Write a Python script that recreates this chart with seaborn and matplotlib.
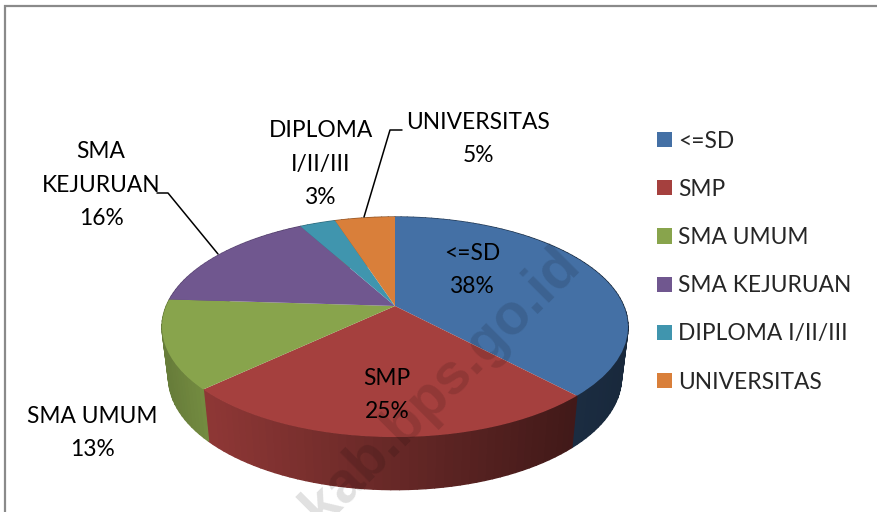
#!/usr/bin/env python3
# -*- coding: utf-8 -*-
import numpy as np
import matplotlib
matplotlib.use('Agg')
import matplotlib.pyplot as plt
from matplotlib.collections import PolyCollection
from matplotlib.transforms import Transform
import seaborn as sns

categories = ['<=SD', 'SMP', 'SMA UMUM', 'SMA KEJURUAN', 'DIPLOMA I/II/III', 'UNIVERSITAS']
percent = [38, 25, 13, 16, 3, 5]
slice_labels = ['<=SD\n38%', 'SMP\n25%', 'SMA UMUM\n13%', 'SMA\nKEJURUAN\n16%', 'DIPLOMA\nI/II/III\n3%', 'UNIVERSITAS\n5%']
slice_colors = ['#4470A5', '#A5403E', '#88A44C', '#70578F', '#4095AE', '#D97F3A']

# where the labels sit, in picture pixels
label_xy = [(472, 270), (387, 395), (92, 433), (101, 185), (321, 164), (478, 139)]

# pie seen in perspective: centre, half axes and tilt, then the lower rim
CX, CY = 395, 306
A, B, TILT = 228.7, 106.0, 0.191
RIM_CY, RIM_SX, RIM_SY = 356, 0.972, 1.02


def project(u, v, cy=CY, sx=1.0, sy=1.0):
    w = 1.0 / (1.0 + TILT * v)
    return CX + sx * A * u * w, cy - sy * B * v * w


class PieTilt(Transform):
    input_dims = 2
    output_dims = 2
    is_separable = False
    has_inverse = False

    def transform_non_affine(self, values):
        x, y = project(values[:, 0], values[:, 1])
        return np.column_stack([x, y])


sns.set_theme(style='white')
plt.rcParams['font.family'] = ['Lato', 'DejaVu Sans']
palette = sns.color_palette(slice_colors)

fig, ax = plt.subplots(figsize=(8.77, 5.12), dpi=100)
ax.set_position([0, 0, 1, 1])

wedges, _ = ax.pie(percent, colors=palette, startangle=90, counterclock=False, radius=1)
ax.set_aspect('auto')
ax.set_xlim(0, 877)
ax.set_ylim(512, 0)
ax.axis('on')
ax.set_xticks([])
ax.set_yticks([])
for side in ax.spines.values():
    side.set_visible(False)

tilt = PieTilt() + ax.transData
for w in wedges:
    w.set_transform(tilt)
    w.set_zorder(3)
    w.set_edgecolor('none')

# side wall, split into thin strips so it can be shaded across
polys, shades = [], []
edges = np.cumsum([0] + percent) / 100 * 2 * np.pi
for ii in range(len(percent)):
    th = np.linspace(edges[ii], edges[ii + 1], max(2, percent[ii] * 2))
    for t0, t1 in zip(th[:-1], th[1:]):
        x0, y0 = project(np.sin(t0), np.cos(t0))
        x1, y1 = project(np.sin(t1), np.cos(t1))
        x2, y2 = project(np.sin(t1), np.cos(t1), RIM_CY, RIM_SX, RIM_SY)
        x3, y3 = project(np.sin(t0), np.cos(t0), RIM_CY, RIM_SX, RIM_SY)
        polys.append([(x0, y0), (x1, y1), (x2, y2), (x3, y3)])
        f = np.interp((x0 + x1) / 2, [165, 207, 570, 630], [0.76, 0.86, 0.40, 0.36])
        shades.append(tuple(np.array(palette[ii]) * f))
ax.add_collection(PolyCollection(polys, facecolors=shades, edgecolors=shades, linewidths=1.0, zorder=2))

# chart frame, cut off by the picture at right and bottom
ax.plot([5, 5, 877], [512, 6, 6], color='#8A8A8A', lw=1.6, zorder=1, solid_joinstyle='miter')

# leader lines
ax.plot([157, 168, 218], [193, 193, 254], color='black', lw=1.1, zorder=5)
ax.plot([402, 390, 364], [130, 130, 217], color='black', lw=1.1, zorder=5)

for txt, (lx, ly) in zip(slice_labels, label_xy):
    ax.text(lx, ly, txt, ha='center', va='center', fontsize=16.4, color='black',
            linespacing=1.74, zorder=6)

ax.legend(wedges, categories, loc='upper left', bbox_to_anchor=(0.749, 0.745), frameon=False,
          fontsize=16.4, handlelength=0.66, handleheight=0.66, handletextpad=0.27,
          labelspacing=1.195, borderpad=0, borderaxespad=0)

# watermark across the chart
ax.text(441, 386, 'kab.bps.go.id', rotation=45, ha='center', va='center', rotation_mode='anchor',
        fontsize=41, fontweight='bold', family=['Liberation Sans', 'DejaVu Sans'],
        color='black', alpha=0.12, zorder=7)

fig.savefig('out.png', dpi=100)
